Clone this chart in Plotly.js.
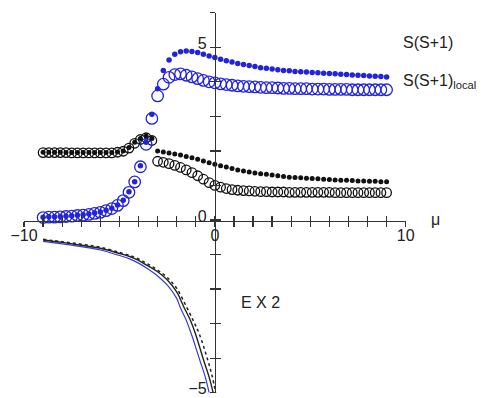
<!DOCTYPE html>
<html>
<head>
<meta charset="utf-8">
<script src="https://cdn.plot.ly/plotly-3.0.1.min.js"></script>
<style>html,body{margin:0;padding:0;background:#fff;}#chart{width:481px;height:398px;}</style>
</head>
<body>
<div id="chart"></div>
<script>
// mu grid of the marker series
var mu = [-9,-8.7,-8.4,-8.1,-7.8,-7.5,-7.2,-6.9,-6.6,-6.3,-6.0,-5.7,-5.4,-5.1,-4.8,-4.5,-4.2,-3.9,-3.6,-3.3,
  -3.0,-2.7,-2.4,-2.1,-1.8,-1.5,-1.2,-0.9,-0.6,-0.3,0,0.3,0.6,0.9,1.2,1.5,1.8,2.1,2.4,2.7,
  3.0,3.3,3.6,3.9,4.2,4.5,4.8,5.1,5.4,5.7,6.0,6.3,6.6,6.9,7.2,7.5,7.8,8.1,8.4,8.7,9.0];

// S(S+1), blue filled dots
var ssBlue = [0.08,0.09,0.09,0.10,0.11,0.12,0.14,0.15,0.17,0.20,0.23,0.28,0.34,0.43,0.57,0.82,1.11,1.57,2.25,3.06,
  3.80,4.33,4.63,4.80,4.87,4.89,4.88,4.85,4.80,4.75,4.70,4.65,4.61,4.57,4.53,4.50,4.47,4.44,4.41,4.39,
  4.37,4.35,4.33,4.32,4.30,4.29,4.28,4.27,4.26,4.25,4.24,4.23,4.22,4.21,4.20,4.19,4.18,4.17,4.16,4.15,4.14];

// S(S+1)_local, blue open circles
var ssLocalBlue = [0.07,0.08,0.08,0.09,0.10,0.11,0.13,0.14,0.16,0.19,0.22,0.27,0.33,0.42,0.56,0.80,1.10,1.54,2.19,2.94,
  3.59,3.93,4.13,4.21,4.23,4.19,4.14,4.09,4.04,4.00,3.97,3.94,3.92,3.90,3.88,3.87,3.86,3.85,3.84,3.83,
  3.83,3.82,3.81,3.81,3.80,3.80,3.80,3.79,3.79,3.79,3.78,3.78,3.78,3.78,3.77,3.77,3.77,3.77,3.77,3.77,3.77];

// S(S+1), black filled dots
var ssBlack = [1.96,1.96,1.96,1.96,1.95,1.95,1.95,1.95,1.95,1.95,1.95,1.95,1.95,1.97,2.00,2.10,2.25,2.36,2.43,2.36,
  2.00,1.97,1.94,1.91,1.88,1.84,1.80,1.76,1.71,1.66,1.61,1.57,1.53,1.49,1.45,1.42,1.39,1.36,1.34,1.32,
  1.30,1.28,1.26,1.24,1.23,1.22,1.21,1.20,1.19,1.18,1.17,1.16,1.15,1.15,1.14,1.13,1.13,1.12,1.12,1.11,1.11];

// S(S+1)_local, black open circles
var ssLocalBlack = [1.95,1.95,1.95,1.95,1.95,1.94,1.94,1.94,1.94,1.94,1.94,1.94,1.94,1.96,1.99,2.08,2.22,2.33,2.38,2.30,
  1.70,1.67,1.63,1.58,1.52,1.45,1.37,1.28,1.18,1.08,1.00,0.95,0.91,0.88,0.86,0.85,0.84,0.83,0.82,0.82,
  0.81,0.81,0.81,0.80,0.80,0.80,0.80,0.80,0.80,0.80,0.80,0.79,0.79,0.79,0.79,0.79,0.79,0.79,0.79,0.79,0.79];

// energy curves
var eBlackX = [-9,-8,-7,-6,-5,-4.5,-4,-3.5,-3,-2.5,-2,-1.6,-1.3,-1.0,-0.6,-0.3,-0.09];
var eBlackY = [-0.58,-0.65,-0.73,-0.82,-0.97,-1.05,-1.17,-1.33,-1.50,-1.73,-2.08,-2.55,-2.88,-3.32,-4.04,-4.55,-5.0];
var eBlueX = [-9,-8,-7,-6,-5,-4.5,-4,-3.5,-3,-2.5,-2,-1.8,-1.5,-1.2,-0.8,-0.5,-0.3];
var eBlueY = [-0.62,-0.69,-0.77,-0.87,-1.03,-1.12,-1.25,-1.42,-1.62,-1.88,-2.27,-2.55,-2.9,-3.35,-4.04,-4.55,-5.0];
var eDotX = [-9,-8,-7,-6,-5,-4.5,-4,-3.5,-3,-2.5,-2,-1.5,-1.1,-0.8,-0.38,-0.15,0.05];
var eDotY = [-0.56,-0.63,-0.70,-0.79,-0.94,-1.02,-1.13,-1.28,-1.45,-1.66,-1.98,-2.5,-2.95,-3.32,-4.04,-4.5,-5.0];

// ticks
var xTickVals = [-10,-9,-8,-7,-6,-5,-4,-3,-2,-1,0,1,2,3,4,5,6,7,8,9,10];
var xTickText = ['\u221210','','','','','','','','','','0','','','','','','','','','','10'];
var yTickVals = [-5,-4,-3,-2,-1,0,1,2,3,4,5,6];
var yTickText = ['\u22125','','','','','0','','','','','5',''];

var BLUE = '#2323dc';
var BLACK = '#111111';
var FONT = 'Liberation Sans, Arial, sans-serif';

var traces = [
  {x: eBlueX, y: eBlueY, mode: 'lines', line: {color: '#3b3bd0', width: 1.2, shape: 'spline'}},
  {x: eBlackX, y: eBlackY, mode: 'lines', line: {color: '#222', width: 1.4, shape: 'spline'}},
  {x: eDotX, y: eDotY, mode: 'lines', line: {color: '#222', width: 1.5, dash: 'dot', shape: 'spline'}},
  {x: mu, y: ssLocalBlack, mode: 'markers', marker: {symbol: 'circle-open', size: 9.5, color: BLACK, line: {width: 1.3, color: BLACK}}},
  {x: mu, y: ssLocalBlue, mode: 'markers', marker: {symbol: 'circle-open', size: 11.5, color: BLUE, line: {width: 1.3, color: BLUE}}},
  {x: mu, y: ssBlue, mode: 'markers', marker: {symbol: 'circle', size: 5.5, color: BLUE}},
  {x: mu, y: ssBlack, mode: 'markers', marker: {symbol: 'circle', size: 5, color: BLACK}},
  {x: [0], y: [0], xaxis: 'x2', yaxis: 'y2', mode: 'markers', marker: {opacity: 0}, hoverinfo: 'skip'}
];

var W = 481, H = 398;
var xDom = [24 / W, 405.7 / W];
var yDom = [(H - 392.7) / H, (H - 12.7) / H];
var xPos = (H - 220.5) / H;   // paper y of the x axis line
var yPos = 214.9 / W;         // paper x of the y axis line

var axCommon = {showgrid: false, zeroline: false, linecolor: '#333', linewidth: 1.3,
  tickcolor: '#333', tickwidth: 1.3, ticklen: 5, tickmode: 'array',
  tickfont: {family: FONT, size: 16, color: '#222'}};

var layout = {
  width: W, height: H,
  margin: {l: 0, r: 0, t: 0, b: 0},
  paper_bgcolor: '#fff', plot_bgcolor: 'rgba(0,0,0,0)',
  showlegend: false,
  xaxis: Object.assign({}, axCommon, {domain: xDom, range: [-10, 10], anchor: 'free', position: xPos,
    showline: true, ticks: 'inside', tickvals: xTickVals, ticktext: xTickText, ticklabeloverflow: 'allow'}),
  yaxis: Object.assign({}, axCommon, {domain: yDom, range: [-5, 6], anchor: 'free', position: yPos,
    showline: true, ticks: 'outside', tickvals: yTickVals, ticktext: yTickText, ticklabelshift: -4,
    ticklabeloverflow: 'allow'}),
  xaxis2: Object.assign({}, axCommon, {overlaying: 'x', range: [-10, 10], anchor: 'free', position: xPos,
    showline: false, ticks: 'outside', tickvals: xTickVals, showticklabels: false}),
  yaxis2: Object.assign({}, axCommon, {overlaying: 'y', range: [-5, 6], anchor: 'free', position: yPos,
    showline: false, ticks: 'inside', tickvals: yTickVals, showticklabels: false}),
  annotations: [
    {text: 'S(S+1)', xref: 'paper', yref: 'paper', x: 401 / W, y: (H - 43) / H, xanchor: 'left', yanchor: 'middle',
      showarrow: false, font: {family: FONT, size: 16, color: '#222'}},
    {text: 'S(S+1)<sub>local</sub>', xref: 'paper', yref: 'paper', x: 401 / W, y: (H - 81) / H, xanchor: 'left', yanchor: 'middle',
      showarrow: false, font: {family: FONT, size: 16, color: '#222'}},
    {text: '\u03bc', xref: 'paper', yref: 'paper', x: 429 / W, y: (H - 220) / H, xanchor: 'left', yanchor: 'middle',
      showarrow: false, font: {family: FONT, size: 16, color: '#222'}},
    {text: 'E X 2', xref: 'paper', yref: 'paper', x: 239 / W, y: (H - 302) / H, xanchor: 'left', yanchor: 'middle',
      showarrow: false, font: {family: FONT, size: 16, color: '#222'}}
  ]
};

Plotly.newPlot('chart', traces, layout, {staticPlot: true, displayModeBar: false});
</script>
</body>
</html>
